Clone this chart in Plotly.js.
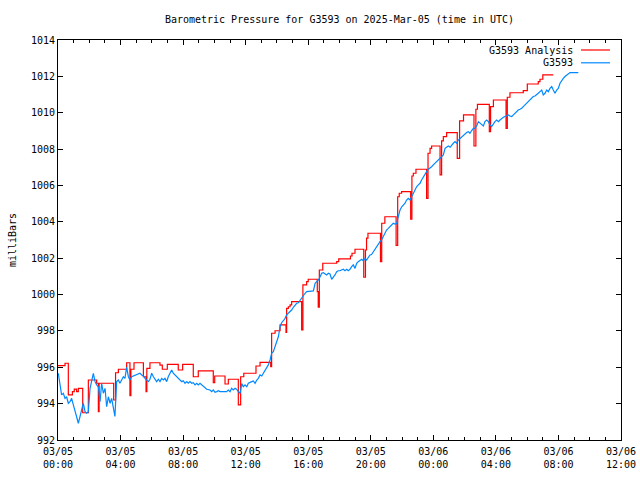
<!DOCTYPE html>
<html><head><meta charset="utf-8">
<script src="https://cdn.plot.ly/plotly-3.0.1.min.js"></script>
<style>html,body{margin:0;padding:0;background:#fff}</style>
</head><body><div id="chart" style="width:640px;height:480px"></div>
<script>
// Hours since 2025-03-05 00:00 UTC
const redHours = [0, 0.45, 0.66, 0.92, 1.04, 1.19, 1.30, 1.58, 1.94, 2.47, 2.58, 2.63, 3.56, 3.68, 3.86, 4.39, 4.60, 4.66, 4.86, 5.46, 5.63, 5.68, 5.88, 6.52, 6.67, 6.99, 7.69, 7.97, 8.65, 8.97, 9.93, 10.02, 10.68, 10.89, 11.53, 11.68, 11.88, 12.66, 12.92, 13.60, 13.66, 13.88, 14.20, 14.58, 14.62, 14.73, 14.84, 14.94, 15.58, 15.66, 15.90, 16.00, 16.58, 16.64, 16.71, 16.93, 17.82, 17.95, 18.70, 18.80, 18.99, 19.55, 19.66, 19.73, 19.82, 20.62, 20.70, 20.90, 21.62, 21.72, 21.82, 21.97, 22.55, 22.63, 22.72, 22.89, 23.57, 23.66, 23.79, 23.89, 24.43, 24.53, 24.64, 24.85, 25.53, 25.68, 25.93, 26.60, 26.72, 26.82, 27.58, 27.66, 27.84, 28.65, 28.73, 28.90, 29.75, 30.01, 30.71, 30.82, 31.00, 31.67];
const redValues = [996.09, 996.22, 994.48, 994.66, 994.80, 994.66, 994.84, 993.50, 995.30, 995.12, 993.56, 995.12, 994.20, 995.70, 995.89, 996.25, 994.44, 995.89, 996.25, 995.48, 994.66, 995.94, 996.25, 996.12, 995.89, 996.16, 995.85, 996.16, 995.48, 995.80, 995.15, 995.52, 995.08, 995.34, 993.93, 995.48, 995.67, 996.07, 996.27, 996.03, 997.87, 998.01, 998.33, 997.92, 999.24, 999.33, 999.43, 999.61, 998.05, 1000.53, 1000.71, 1000.84, 1000.16, 999.30, 1001.35, 1001.72, 1001.81, 1001.96, 1002.12, 1002.27, 1002.49, 1000.95, 1002.45, 1003.10, 1003.37, 1001.81, 1003.92, 1004.28, 1002.70, 1005.38, 1005.57, 1005.66, 1004.14, 1006.52, 1006.67, 1006.89, 1005.29, 1007.77, 1008.04, 1008.17, 1006.58, 1008.45, 1008.69, 1008.91, 1007.49, 1009.55, 1009.88, 1008.17, 1010.19, 1010.46, 1008.96, 1010.34, 1010.70, 1009.14, 1010.85, 1011.10, 1011.22, 1011.58, 1011.71, 1011.84, 1012.08, 1012.08];

const blueHours = [0.02, 0.13, 0.23, 0.34, 0.45, 0.55, 0.66, 0.77, 0.87, 0.98, 1.09, 1.19, 1.30, 1.41, 1.51, 1.62, 1.73, 1.83, 1.94, 2.05, 2.15, 2.26, 2.37, 2.47, 2.58, 2.69, 2.79, 2.90, 3.01, 3.11, 3.22, 3.33, 3.43, 3.54, 3.64, 3.75, 3.86, 3.96, 4.07, 4.18, 4.28, 4.39, 4.50, 4.60, 4.71, 4.82, 5.03, 5.24, 5.35, 5.46, 5.56, 5.67, 5.78, 5.88, 5.99, 6.10, 6.31, 6.42, 6.52, 6.63, 6.74, 6.84, 6.95, 7.05, 7.16, 7.27, 7.37, 7.48, 7.59, 7.69, 7.80, 7.91, 8.01, 8.12, 8.23, 8.33, 8.44, 8.55, 8.65, 8.76, 8.87, 8.97, 9.08, 9.19, 9.29, 9.40, 9.51, 9.72, 9.83, 9.93, 10.04, 10.15, 10.25, 10.36, 10.57, 10.78, 10.89, 11.00, 11.10, 11.21, 11.32, 11.42, 11.53, 11.64, 11.75, 11.85, 11.96, 12.07, 12.17, 12.28, 12.39, 12.49, 12.60, 12.71, 12.81, 12.92, 13.03, 13.13, 13.24, 13.34, 13.45, 13.56, 13.66, 13.77, 13.88, 13.98, 14.09, 14.20, 14.30, 14.41, 14.52, 14.62, 14.73, 14.84, 14.94, 15.05, 15.16, 15.26, 15.37, 15.48, 15.58, 15.69, 15.80, 15.90, 16.01, 16.12, 16.22, 16.33, 16.44, 16.54, 16.65, 16.76, 16.86, 16.97, 17.07, 17.18, 17.29, 17.39, 17.50, 17.61, 17.71, 17.82, 17.92, 18.03, 18.14, 18.24, 18.35, 18.46, 18.56, 18.67, 18.78, 18.88, 18.99, 19.10, 19.20, 19.31, 19.42, 19.52, 19.63, 19.73, 19.84, 19.95, 20.05, 20.16, 20.27, 20.37, 20.48, 20.59, 20.69, 20.80, 20.91, 21.01, 21.12, 21.23, 21.33, 21.44, 21.55, 21.65, 21.76, 21.87, 21.98, 22.08, 22.19, 22.29, 22.40, 22.51, 22.61, 22.72, 22.83, 22.93, 23.04, 23.15, 23.25, 23.36, 23.47, 23.57, 23.68, 23.79, 23.89, 24.00, 24.11, 24.21, 24.32, 24.43, 24.53, 24.64, 24.75, 24.85, 24.96, 25.07, 25.17, 25.28, 25.39, 25.49, 25.60, 25.71, 25.81, 25.92, 26.02, 26.13, 26.24, 26.34, 26.45, 26.56, 26.66, 26.77, 26.88, 26.98, 27.09, 27.20, 27.30, 27.41, 27.52, 27.62, 27.73, 27.84, 27.94, 28.05, 28.16, 28.26, 28.37, 28.48, 28.58, 28.69, 28.80, 28.90, 29.01, 29.12, 29.22, 29.33, 29.43, 29.54, 29.65, 29.75, 29.86, 29.97, 30.07, 30.18, 30.29, 30.39, 30.50, 30.61, 30.71, 30.82, 30.93, 31.03, 31.14, 31.25, 31.35, 31.46, 31.57, 31.67, 31.78, 31.89, 31.99, 32.10, 32.21, 32.31, 32.42, 32.53, 32.63, 32.74, 33.27];
const blueValues = [995.67, 995.12, 994.48, 994.57, 994.29, 994.38, 994.02, 994.11, 994.29, 993.93, 993.65, 993.28, 992.92, 993.38, 993.65, 994.02, 993.56, 993.47, 993.56, 994.84, 995.30, 995.67, 995.21, 995.03, 994.93, 994.11, 995.12, 994.57, 994.84, 993.83, 994.38, 994.02, 994.29, 993.74, 993.30, 995.21, 995.30, 995.12, 995.30, 995.48, 995.39, 996.00, 995.48, 995.30, 995.48, 995.52, 995.58, 995.67, 995.58, 995.52, 995.39, 995.30, 995.21, 995.34, 995.67, 995.48, 995.21, 995.34, 995.21, 995.39, 995.30, 995.39, 995.21, 995.48, 995.67, 995.85, 995.67, 995.58, 995.48, 995.39, 995.30, 995.21, 995.26, 995.12, 995.21, 995.12, 995.21, 995.12, 995.15, 995.03, 995.12, 995.03, 995.12, 995.03, 994.93, 994.84, 994.79, 994.75, 994.66, 994.75, 994.62, 994.66, 994.71, 994.66, 994.66, 994.66, 994.75, 994.66, 994.84, 994.75, 994.84, 994.79, 994.66, 994.57, 995.10, 994.93, 995.03, 994.93, 995.12, 995.15, 995.21, 995.25, 995.12, 995.30, 995.39, 995.58, 995.52, 995.67, 995.81, 995.94, 996.13, 996.40, 996.77, 996.86, 997.13, 997.41, 997.68, 998.23, 998.45, 998.56, 998.69, 998.88, 998.97, 999.10, 999.15, 999.30, 999.43, 999.52, 999.55, 999.70, 999.83, 999.98, 1000.07, 1000.16, 1000.16, 1000.18, 1000.18, 1000.20, 1000.62, 1000.71, 1000.80, 1000.98, 1001.17, 1001.20, 1001.13, 1001.08, 1001.17, 1001.13, 1000.84, 1000.95, 1001.08, 1001.26, 1001.31, 1001.31, 1001.35, 1001.39, 1001.31, 1001.39, 1001.31, 1001.39, 1001.53, 1001.63, 1001.44, 1001.72, 1001.81, 1001.86, 1001.94, 1001.86, 1001.99, 1001.90, 1002.08, 1002.18, 1002.20, 1002.35, 1002.50, 1002.65, 1002.78, 1002.91, 1003.00, 1003.18, 1003.37, 1003.55, 1003.64, 1003.73, 1003.83, 1003.92, 1003.88, 1003.90, 1004.28, 1004.65, 1004.83, 1004.93, 1005.02, 1005.20, 1005.29, 1005.20, 1005.38, 1005.57, 1005.75, 1005.93, 1006.03, 1006.12, 1006.30, 1006.48, 1006.67, 1006.76, 1006.89, 1006.94, 1007.03, 1007.13, 1007.22, 1007.31, 1007.40, 1007.49, 1007.58, 1007.68, 1008.04, 1008.10, 1008.17, 1008.10, 1008.23, 1008.32, 1008.41, 1008.32, 1008.50, 1008.59, 1008.69, 1008.78, 1008.87, 1008.91, 1008.96, 1008.87, 1009.02, 1009.14, 1009.14, 1009.27, 1009.51, 1009.42, 1009.33, 1009.27, 1009.51, 1009.60, 1009.51, 1009.33, 1009.24, 1009.42, 1009.51, 1009.60, 1009.51, 1009.60, 1009.69, 1009.75, 1009.79, 1009.82, 1009.88, 1009.82, 1009.79, 1009.88, 1009.97, 1010.06, 1010.15, 1010.19, 1010.24, 1010.34, 1010.43, 1010.52, 1010.61, 1010.70, 1010.79, 1010.89, 1010.92, 1010.98, 1011.07, 1011.16, 1011.25, 1010.98, 1011.07, 1011.25, 1011.16, 1011.34, 1011.44, 1011.25, 1011.07, 1011.25, 1011.34, 1011.62, 1011.80, 1011.89, 1011.99, 1012.08, 1012.17, 1012.21, 1012.21];

const tickHours = [0, 4, 8, 12, 16, 20, 24, 28, 32, 36];
const tickLabels = ['03/05<br>00:00', '03/05<br>04:00', '03/05<br>08:00', '03/05<br>12:00', '03/05<br>16:00', '03/05<br>20:00', '03/06<br>00:00', '03/06<br>04:00', '03/06<br>08:00', '03/06<br>12:00'];
const seriesNames = ['G3593 Analysis', 'G3593'];
const seriesColors = ['#ff0000', '#0088ff'];

const base = Date.UTC(2025, 2, 5);
function toDate(h) {
  const d = new Date(base + Math.round(h * 3600000));
  return d.toISOString().replace('T', ' ').slice(0, 19);
}

const FONT = 'DejaVu Sans Mono, monospace';

const traces = [
  {x: redHours.map(toDate), y: redValues, type: 'scatter', mode: 'lines', name: seriesNames[0],
   line: {color: seriesColors[0], width: 1.2, shape: 'hv'}, showlegend: false},
  {x: blueHours.map(toDate), y: blueValues, type: 'scatter', mode: 'lines', name: seriesNames[1],
   line: {color: seriesColors[1], width: 1.2}, showlegend: false}
];

const axisCommon = {
  showline: true, linecolor: '#000', linewidth: 1, mirror: 'allticks',
  ticks: 'inside', ticklen: 5, tickcolor: '#000', tickwidth: 1,
  showgrid: false, zeroline: false,
  tickfont: {family: FONT, size: 10, color: '#000'}
};

const legendY = [0.975, 0.943];
const annotations = seriesNames.map((n, i) => ({
  xref: 'paper', yref: 'paper', x: 0.9185, y: legendY[i], text: n, showarrow: false,
  xanchor: 'right', yanchor: 'middle', font: {family: FONT, size: 10, color: '#000'}
}));
const shapes = seriesNames.map((n, i) => ({
  type: 'line', xref: 'paper', yref: 'paper', x0: 0.929, x1: 0.9805, y0: legendY[i], y1: legendY[i],
  line: {color: seriesColors[i], width: 1.2}
}));

const layout = {
  width: 640, height: 480,
  margin: {l: 58, r: 19, t: 40, b: 40},
  paper_bgcolor: '#fff', plot_bgcolor: '#fff',
  font: {family: FONT, size: 10, color: '#000'},
  title: {text: 'Barometric Pressure for G3593 on 2025-Mar-05 (time in UTC)',
          x: 0.5, xref: 'paper', y: 1 - 19 / 480, yanchor: 'middle',
          font: {family: FONT, size: 10, color: '#000'}},
  xaxis: Object.assign({}, axisCommon, {
    type: 'date', range: [toDate(0), toDate(36)],
    tickmode: 'array', tickvals: tickHours.map(toDate), ticktext: tickLabels,
    ticklabelstandoff: 2,
    minor: {tickmode: 'linear', tick0: toDate(0), dtick: 3600000, ticks: 'inside', ticklen: 3, tickcolor: '#000', showgrid: false}
  }),
  yaxis: Object.assign({}, axisCommon, {
    range: [992, 1014], tickmode: 'linear', tick0: 992, dtick: 2,
    title: {text: 'milliBars', standoff: 12, font: {family: FONT, size: 10, color: '#000'}}
  }),
  annotations: annotations,
  shapes: shapes
};

Plotly.newPlot('chart', traces, layout, {displayModeBar: false, staticPlot: true});
</script>
</body></html>
